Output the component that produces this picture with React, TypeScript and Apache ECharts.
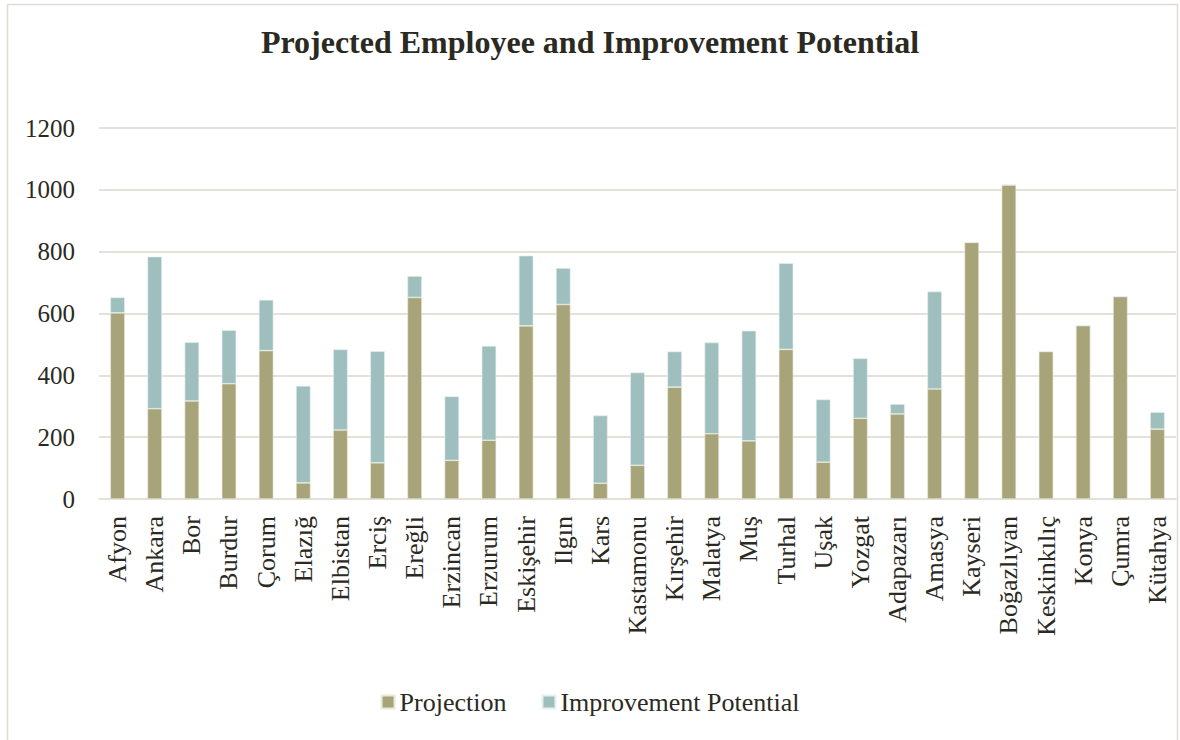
import React, { useEffect, useRef } from "react";
import * as echarts from "echarts";

const categories = ["Afyon","Ankara","Bor","Burdur","Çorum","Elazığ","Elbistan","Erciş","Ereğli","Erzincan","Erzurum","Eskişehir","Ilgın","Kars","Kastamonu","Kırşehir","Malatya","Muş","Turhal","Uşak","Yozgat","Adapazarı","Amasya","Kayseri","Boğazlıyan","Keskinkılıç","Konya","Çumra","Kütahya"];
const projection = [602,292,317,373,480,52,223,117,652,125,190,560,629,51,109,362,211,188,484,119,261,275,356,830,1016,477,561,655,226];
const totals = [652,784,507,546,644,366,484,478,721,332,495,787,747,270,409,477,506,544,763,322,455,307,671,830,1016,477,561,655,281];
const improvement = totals.map((t, i) => t - projection[i]);
const yTicks = [0, 200, 400, 600, 800, 1000, 1200];

const FONT = "Liberation Serif";
const TEXT = "#2b2a22";

export default function App() {
  const ref = useRef<HTMLDivElement>(null);
  useEffect(() => {
    document.body.style.margin = "0";
    const chart = echarts.init(ref.current!, undefined, { renderer: "svg" });
    chart.setOption({
      animation: false,
      backgroundColor: "#ffffff",
      textStyle: { fontFamily: FONT },
      title: {
        text: "Projected Employee and Improvement Potential",
        left: "center",
        top: 21,
        textStyle: { fontFamily: FONT, fontSize: 32, fontWeight: "bold", color: TEXT },
      },
      graphic: [
        {
          type: "rect",
          shape: { x: 7.5, y: 4.5, width: 1170, height: 745 },
          style: { fill: "none", stroke: "#dddcd5", lineWidth: 1.5 },
          silent: true,
        },
      ],
      legend: {
        top: 683,
        left: "center",
        itemWidth: 13,
        itemHeight: 13,
        itemGap: 35,
        icon: "rect",
        textStyle: { fontFamily: FONT, fontSize: 26, lineHeight: 28, color: TEXT },
        data: ["Projection", "Improvement Potential"],
      },
      grid: { left: 99, right: 4, top: 128, bottom: 241, containLabel: false },
      xAxis: {
        type: "category",
        data: categories,
        axisTick: { show: false },
        axisLine: { show: true, lineStyle: { color: "#e4e1d9", width: 2 } },
        axisLabel: {
          rotate: 90,
          interval: 0,
          margin: 17,
          fontFamily: FONT,
          fontSize: 26,
          color: TEXT,
        },
      },
      yAxis: {
        type: "value",
        min: yTicks[0],
        max: yTicks[yTicks.length - 1],
        interval: 200,
        axisLine: { show: false },
        axisTick: { show: false },
        splitLine: { lineStyle: { color: "#e4e1d9", width: 2 } },
        axisLabel: {
          fontFamily: FONT,
          fontSize: 25,
          color: TEXT,
          margin: 24,
          formatter: (v: number) => String(v),
        },
      },
      series: [
        {
          name: "Projection",
          type: "bar",
          stack: "total",
          data: projection,
          barWidth: "39%",
          itemStyle: { color: "#a8a47a", borderColor: "#e9ead9", borderWidth: 0.6 },
        },
        {
          name: "Improvement Potential",
          type: "bar",
          stack: "total",
          data: improvement,
          barWidth: "39%",
          itemStyle: { color: "#9fbfbe", borderColor: "#e6f0ef", borderWidth: 0.6 },
        },
      ],
    });
    return () => chart.dispose();
  }, []);
  return <div ref={ref} style={{ width: 1180, height: 740 }} />;
}
